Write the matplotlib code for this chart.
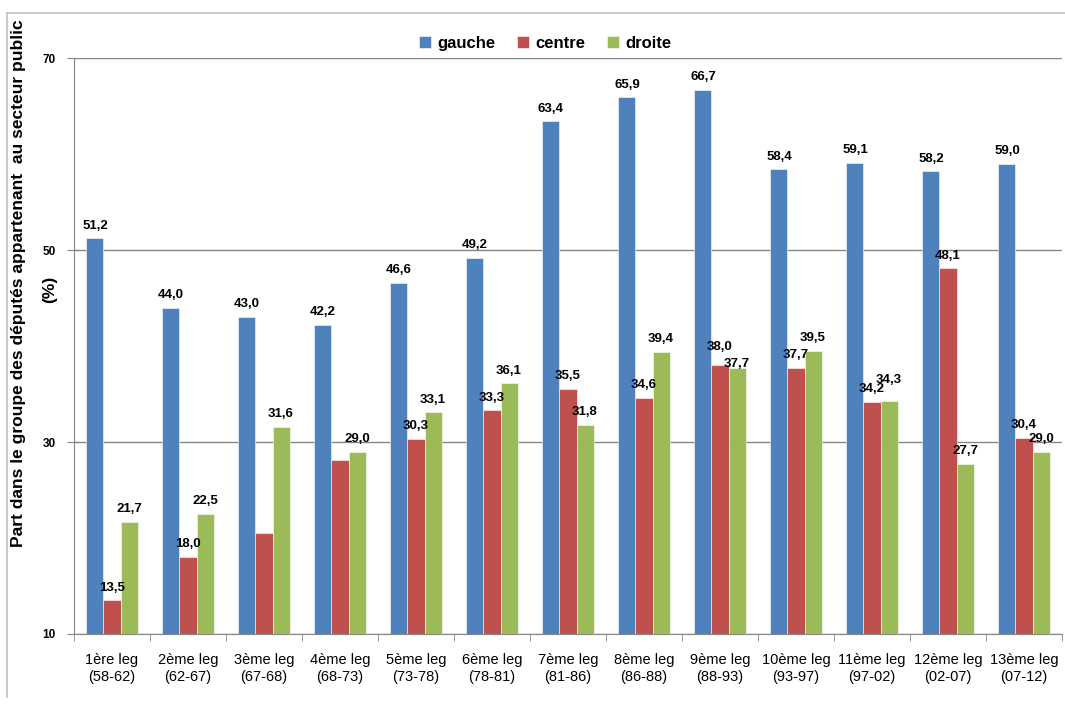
import numpy as np
import matplotlib
matplotlib.use("Agg")
import matplotlib.pyplot as plt
from matplotlib.lines import Line2D

plt.rcParams['font.family'] = ['Liberation Sans', 'DejaVu Sans']

legislatures = ['1ère leg\n(58-62)', '2ème leg\n(62-67)', '3ème leg\n(67-68)', '4ème leg\n(68-73)',
                '5ème leg\n(73-78)', '6ème leg\n(78-81)', '7ème leg\n(81-86)', '8ème leg\n(86-88)',
                '9ème leg\n(88-93)', '10ème leg\n(93-97)', '11ème leg\n(97-02)', '12ème leg\n(02-07)',
                '13ème leg\n(07-12)']
gauche = [51.2, 44.0, 43.0, 42.2, 46.6, 49.2, 63.4, 65.9, 66.7, 58.4, 59.1, 58.2, 59.0]
centre = [13.5, 18.0, 20.5, 28.1, 30.3, 33.3, 35.5, 34.6, 38.0, 37.7, 34.2, 48.1, 30.4]
droite = [21.7, 22.5, 31.6, 29.0, 33.1, 36.1, 31.8, 39.4, 37.7, 39.5, 34.3, 27.7, 29.0]
# centre values of the 3rd and 4th leg have no label in the original
centre_labelled = [True, True, False, False] + [True] * 9

series = [('gauche', gauche, '#4F81BD'), ('centre', centre, '#C0504D'), ('droite', droite, '#9BBB59')]
# small vertical shifts (points) of some labels, as in the original
nudge = {('centre', 8): 4, ('droite', 8): -6, ('droite', 10): 6}

fig = plt.figure(figsize=(10.65, 7.09), dpi=100)
ax = fig.add_axes([74 / 1065, 1 - 634 / 709, (1062 - 74) / 1065, (634 - 58) / 709])

x = np.arange(len(legislatures))
w = 0.224
for k, (name, vals, col) in enumerate(series):
    pos = x + (k - 1) * w
    ax.bar(pos, np.array(vals) - 10, bottom=10, width=w, color=col, label=name,
           edgecolor='white', linewidth=0.4, zorder=3)
    for i, (p, v) in enumerate(zip(pos, vals)):
        if name == 'centre' and not centre_labelled[i]:
            continue
        dy = 7 + nudge.get((name, i), 0)
        ax.annotate(f'{v:.1f}'.replace('.', ','), (p, v), xytext=(0, dy), textcoords='offset points',
                    ha='center', va='baseline', fontsize=9.5, fontweight='bold', zorder=4)

ax.set_xlim(-0.5, len(legislatures) - 0.5)
ax.set_ylim(10, 70)
ax.set_yticks([10, 30, 50, 70])
ax.set_yticklabels(['10', '30', '50', '70'], fontsize=8.5, fontweight='bold')
ax.yaxis.grid(True, color='#868686', linewidth=1.0, zorder=0)
ax.set_axisbelow(True)

ax.set_xticks(x)
ax.set_xticklabels(legislatures, fontsize=10.5)
ax.set_xticks(np.arange(len(legislatures) + 1) - 0.5, minor=True)
ax.tick_params(axis='x', which='major', length=0, pad=14)
ax.tick_params(axis='x', which='minor', length=5, color='#868686', direction='out')
ax.tick_params(axis='y', length=5, color='#868686', pad=8)

for s in ['top', 'right']:
    ax.spines[s].set_visible(False)
ax.spines['left'].set_color('#868686')
ax.spines['bottom'].set_color('#868686')

# y axis title, written as two lines the way the original wraps it
ax.text(-0.0557, 0.609, 'Part dans le groupe des députés appartenant  au secteur public',
        transform=ax.transAxes, rotation=90, ha='center', va='center', fontsize=12.5, fontweight='bold')
ax.text(-0.0243, 0.599, '(%)', transform=ax.transAxes, rotation=90, ha='center', va='center',
        fontsize=12.5, fontweight='bold')

leg = ax.legend(loc='upper center', bbox_to_anchor=(0.477, 1.065), ncol=3, frameon=False,
                handlelength=0.7, handleheight=0.7, handletextpad=0.4, columnspacing=1.3,
                prop={'size': 12, 'weight': 'bold'})

# outer chart frame (top and left edges visible)
fig.add_artist(Line2D([7 / 1065, 1.0], [1 - 13 / 709, 1 - 13 / 709], color='#BFBFBF', linewidth=1.2))
fig.add_artist(Line2D([7 / 1065, 7 / 1065], [1 - 13 / 709, 1 - 697 / 709], color='#BFBFBF', linewidth=1.2))

fig.savefig('out.png', dpi=100)
